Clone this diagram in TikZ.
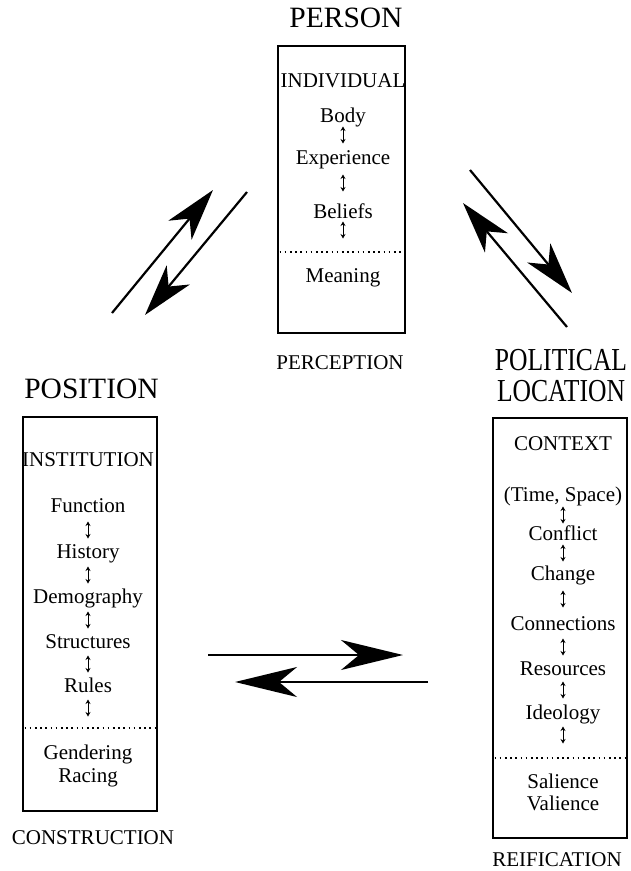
\documentclass[tikz,border=0pt]{standalone}
\usepackage{fontspec}
\setmainfont{Liberation Serif}
\usetikzlibrary{arrows.meta}
\newcommand{\vdarr}[3]{\coordinate (#1a) at (#2,#3-8.5); \coordinate (#1b) at (#2,#3+8.5); \draw[smallarr] (#1a) -- (#1b);}
\begin{document}
\begin{tikzpicture}[x=1pt,y=-1pt,
  txt/.style={inner sep=0pt, text height=14pt, text depth=0pt, font=\fontsize{21}{25}\selectfont},
  ttl/.style={inner sep=0pt, text height=19.5pt, text depth=0pt, font=\fontsize{29.5}{34}\selectfont},
  ttlb/.style={inner sep=0pt, text height=21pt, text depth=0pt, font=\fontsize{32}{34}\selectfont},
  boxst/.style={draw, line width=2.4pt, inner sep=0pt},
  dotline/.style={line width=1.8pt, dash pattern=on 1.6pt off 3.6pt},
  smallarr/.style={line width=0.9pt, {Stealth[length=4.5pt,width=5pt,inset=1.5pt]}-{Stealth[length=4.5pt,width=5pt,inset=1.5pt]}},
  bigd/.style={line width=2.2pt, -{Stealth[length=52pt,width=30pt,inset=15pt]}},
  bigh/.style={line width=2.2pt, -{Stealth[length=62pt,width=30pt,inset=18pt]}}
]
\useasboundingbox (0,0) rectangle (630,871);

% ---------- top box: PERSON ----------
\node[ttl] (person) at (346,18) {PERSON};
\node[boxst, minimum width=127pt, minimum height=287pt] (pbox) at (341.5,189.5) {};
\node[txt] (indiv) at (343,80) {INDIVIDUAL};
\node[txt] (body) at (343,115) {Body};
\node[txt] (exper) at (343,157) {Experience};
\node[txt] (belief) at (343,211) {Beliefs};
\node[txt] (meaning) at (343,275) {Meaning};
\node[txt] (percep) at (340,362) {PERCEPTION};
\vdarr{pa1}{343}{135}
\vdarr{pa2}{343}{183}
\vdarr{pa3}{343}{230}
\coordinate (pdl) at (279.5,252);
\coordinate (pdr) at (403.5,252);
\draw[dotline] (pdl) -- (pdr);

% ---------- left box: POSITION ----------
\node[ttl] (position) at (91.5,389) {POSITION};
\node[boxst, minimum width=134pt, minimum height=394pt] (lbox) at (90,614) {};
\node[txt] (instit) at (88,459) {INSTITUTION};
\node[txt] (func) at (88,505) {Function};
\node[txt] (hist) at (88,551) {History};
\node[txt] (demo) at (88,596) {Demography};
\node[txt] (struct) at (88,641) {Structures};
\node[txt] (rules) at (88,685) {Rules};
\node[txt] (gender) at (88,752) {Gendering};
\node[txt] (racing) at (88,775) {Racing};
\node[txt] (constr) at (93,837) {CONSTRUCTION};
\vdarr{la1}{88}{530}
\vdarr{la2}{88}{575}
\vdarr{la3}{88}{620}
\vdarr{la4}{88}{664}
\vdarr{la5}{88}{708}
\coordinate (ldl) at (24.5,728);
\coordinate (ldr) at (155.5,728);
\draw[dotline] (ldl) -- (ldr);

% ---------- right box: POLITICAL LOCATION ----------
\node[ttlb] (polit) at (561,360) {\scalebox{0.8}[1]{POLITICAL}};
\node[ttlb] (locat) at (561,391) {\scalebox{0.8}[1]{LOCATION}};
\node[boxst, minimum width=134pt, minimum height=420pt] (rbox) at (560,628) {};
\node[txt] (context) at (563,443) {CONTEXT};
\node[txt] (timesp) at (563,494) {(Time, Space)};
\node[txt] (confl) at (563,533) {Conflict};
\node[txt] (change) at (563,573) {Change};
\node[txt] (conn) at (563,623) {Connections};
\node[txt] (resou) at (563,668) {Resources};
\node[txt] (ideol) at (563,712) {Ideology};
\node[txt] (salie) at (563,781) {Salience};
\node[txt] (valie) at (563,803) {Valience};
\node[txt] (reif) at (557,859) {REIFICATION};
\vdarr{ra1}{563}{515}
\vdarr{ra2}{563}{553}
\vdarr{ra3}{563}{599}
\vdarr{ra4}{563}{647}
\vdarr{ra5}{563}{690}
\vdarr{ra6}{563}{735}
\coordinate (rdl) at (494.5,758);
\coordinate (rdr) at (625.5,758);
\draw[dotline] (rdl) -- (rdr);

% ---------- big arrows ----------
\coordinate (a1s) at (112,313); \coordinate (a1e) at (213,190);
\coordinate (a2s) at (247,192); \coordinate (a2e) at (145,315);
\coordinate (a3s) at (470,170); \coordinate (a3e) at (572,293);
\coordinate (a4s) at (567,327); \coordinate (a4e) at (463,203);
\coordinate (a5s) at (208,655); \coordinate (a5e) at (403,655);
\coordinate (a6s) at (428,682); \coordinate (a6e) at (235,682);
\draw[bigd] (a1s) -- (a1e);
\draw[bigd] (a2s) -- (a2e);
\draw[bigd] (a3s) -- (a3e);
\draw[bigd] (a4s) -- (a4e);
\draw[bigh] (a5s) -- (a5e);
\draw[bigh] (a6s) -- (a6e);
\end{tikzpicture}
\end{document}
